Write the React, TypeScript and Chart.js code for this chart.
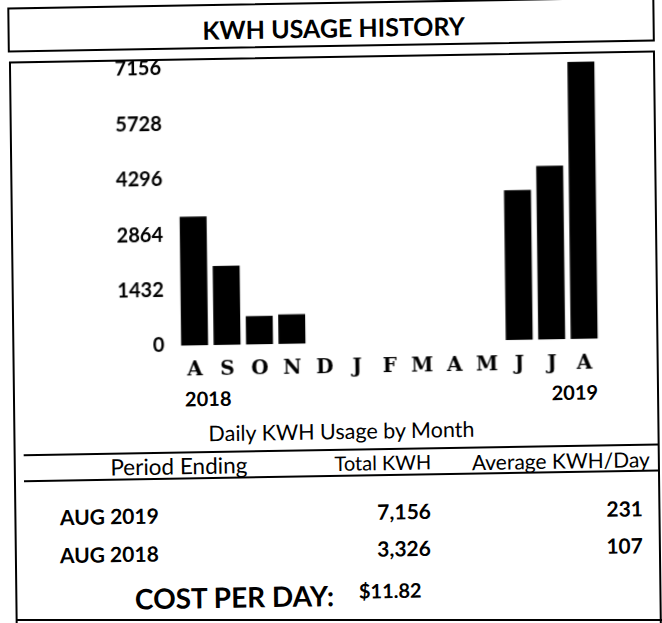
import React, { useEffect, useRef } from "react";
import { Chart, registerables } from "chart.js";

Chart.register(...registerables);

const months = ["A", "S", "O", "N", "D", "J", "F", "M", "A", "M", "J", "J", "A"];
const kwh = [3326, 2040, 730, 760, 0, 0, 0, 0, 0, 0, 3870, 4480, 7156];
const yTicks = [0, 1432, 2864, 4296, 5728, 7156];
const years = ["2018", "2019"];
const headers = ["Period Ending", "Total KWH", "Average KWH/Day"];
const periods = ["AUG 2019", "AUG 2018"];
const totals = ["7,156", "3,326"];
const averages = ["231", "107"];
const costPerDay = "$11.82";

const SANS = "Lato, 'Open Sans', sans-serif";

type TProps = {
  x: number;
  y: number;
  align?: "left" | "center" | "right";
  size: number;
  bold?: boolean;
  family?: string;
  children: React.ReactNode;
};

function T({ x, y, align = "left", size, bold, family, children }: TProps) {
  const tx = align === "left" ? "0" : align === "center" ? "-50%" : "-100%";
  return (
    <div
      style={{
        position: "absolute",
        left: x,
        top: y,
        transform: `translate(${tx}, -50%)`,
        fontFamily: family || SANS,
        fontSize: size,
        fontWeight: bold ? 700 : 400,
        lineHeight: 1,
        whiteSpace: "nowrap",
        color: "#000",
      }}
    >
      {children}
    </div>
  );
}

function HLine({ x1, x2, y }: { x1: number; x2: number; y: number }) {
  return (
    <div
      style={{
        position: "absolute",
        left: x1,
        top: y - 1,
        width: x2 - x1,
        height: 2,
        background: "#000",
      }}
    />
  );
}

export default function App() {
  const ref = useRef<HTMLCanvasElement | null>(null);

  useEffect(() => {
    if (!ref.current) return;
    const chart = new Chart(ref.current, {
      type: "bar",
      data: {
        labels: months,
        datasets: [
          {
            data: kwh,
            backgroundColor: "#000",
            borderWidth: 0,
            barPercentage: 0.83,
            categoryPercentage: 1,
          },
        ],
      },
      options: {
        animation: false,
        responsive: false,
        maintainAspectRatio: false,
        layout: { padding: { top: 16, right: 16, left: 0, bottom: 0 } },
        plugins: { legend: { display: false }, tooltip: { enabled: false } },
        scales: {
          x: {
            grid: { display: false, drawTicks: false },
            border: { display: false },
            ticks: {
              color: "#000",
              font: { family: "'DejaVu Serif', serif", weight: "bold", size: 20 },
              padding: 13,
              maxRotation: 0,
              autoSkip: false,
            },
            afterFit: (s: any) => {
              s.height = 40;
              s.paddingLeft = 0;
              s.paddingRight = 0;
            },
          },
          y: {
            min: 0,
            max: 7156,
            grid: { display: false, drawTicks: false },
            border: { display: false },
            ticks: {
              color: "#000",
              font: { family: SANS, weight: "bold", size: 20 },
              padding: 14,
              callback: (v: any) => String(v),
            },
            afterBuildTicks: (s: any) => {
              s.ticks = yTicks.map((v) => ({ value: v }));
            },
            afterFit: (s: any) => {
              s.width = 88;
              s.paddingTop = 0;
              s.paddingBottom = 0;
            },
          },
        },
      },
    });
    return () => chart.destroy();
  }, []);

  return (
    <div
      style={{
        position: "absolute",
        left: 0,
        top: 0,
        width: 662,
        height: 623,
        background: "#fff",
        overflow: "hidden",
      }}
    >
      <div
        style={{
          position: "absolute",
          left: 0,
          top: 0,
          width: 662,
          height: 623,
          transformOrigin: "331px 311px",
          transform: "matrix(1, -0.017, 0.012, 1, 0, 0)",
        }}
      >
        {/* title box */}
        <div
          style={{
            position: "absolute",
            left: 11,
            top: 2,
            width: 647,
            height: 45,
            border: "2px solid #000",
            boxSizing: "border-box",
          }}
        />
        <T x={337} y={28} align="center" size={25} bold>
          KWH USAGE HISTORY
        </T>

        {/* main box: top, left, right edges (bottom edge drawn flat below) */}
        <div
          style={{
            position: "absolute",
            left: 12,
            top: 56,
            width: 646,
            height: 600,
            border: "2px solid #000",
            boxSizing: "border-box",
          }}
        />

        <canvas
          ref={ref}
          width={526}
          height={333}
          style={{ position: "absolute", left: 90, top: 50, width: 526, height: 333, display: "block" }}
        />

        <T x={184} y={396} size={20} bold>
          {years[0]}
        </T>
        <T x={597} y={396} align="right" size={20} bold>
          {years[1]}
        </T>

        <T x={340} y={432} align="center" size={21.5}>
          Daily KWH Usage by Month
        </T>

        <HLine x1={22} x2={657} y={450} />
        <HLine x1={22} x2={657} y={476} />

        <T x={177} y={464} align="center" size={22.5}>
          {headers[0]}
        </T>
        <T x={381} y={463} align="center" size={20}>
          {headers[1]}
        </T>
        <T x={559} y={464} align="center" size={21}>
          {headers[2]}
        </T>

        <T x={57.5} y={511.5} size={21} bold>
          {periods[0]}
        </T>
        <T x={428.5} y={512} align="right" size={21} bold>
          {totals[0]}
        </T>
        <T x={640.5} y={513} align="right" size={21} bold>
          {averages[0]}
        </T>

        <T x={57} y={549.5} size={21} bold>
          {periods[1]}
        </T>
        <T x={428} y={549} align="right" size={21} bold>
          {totals[1]}
        </T>
        <T x={640} y={549.5} align="right" size={21} bold>
          {averages[1]}
        </T>

        <T x={131.5} y={595} size={28} bold>
          COST PER DAY:
        </T>
        <T x={355.5} y={591} size={20} bold>
          {costPerDay}
        </T>
      </div>

      {/* flat bottom edge of the main box */}
      <div
        style={{
          position: "absolute",
          left: 17,
          top: 619,
          width: 645,
          height: 2,
          background: "#000",
        }}
      />
    </div>
  );
}
